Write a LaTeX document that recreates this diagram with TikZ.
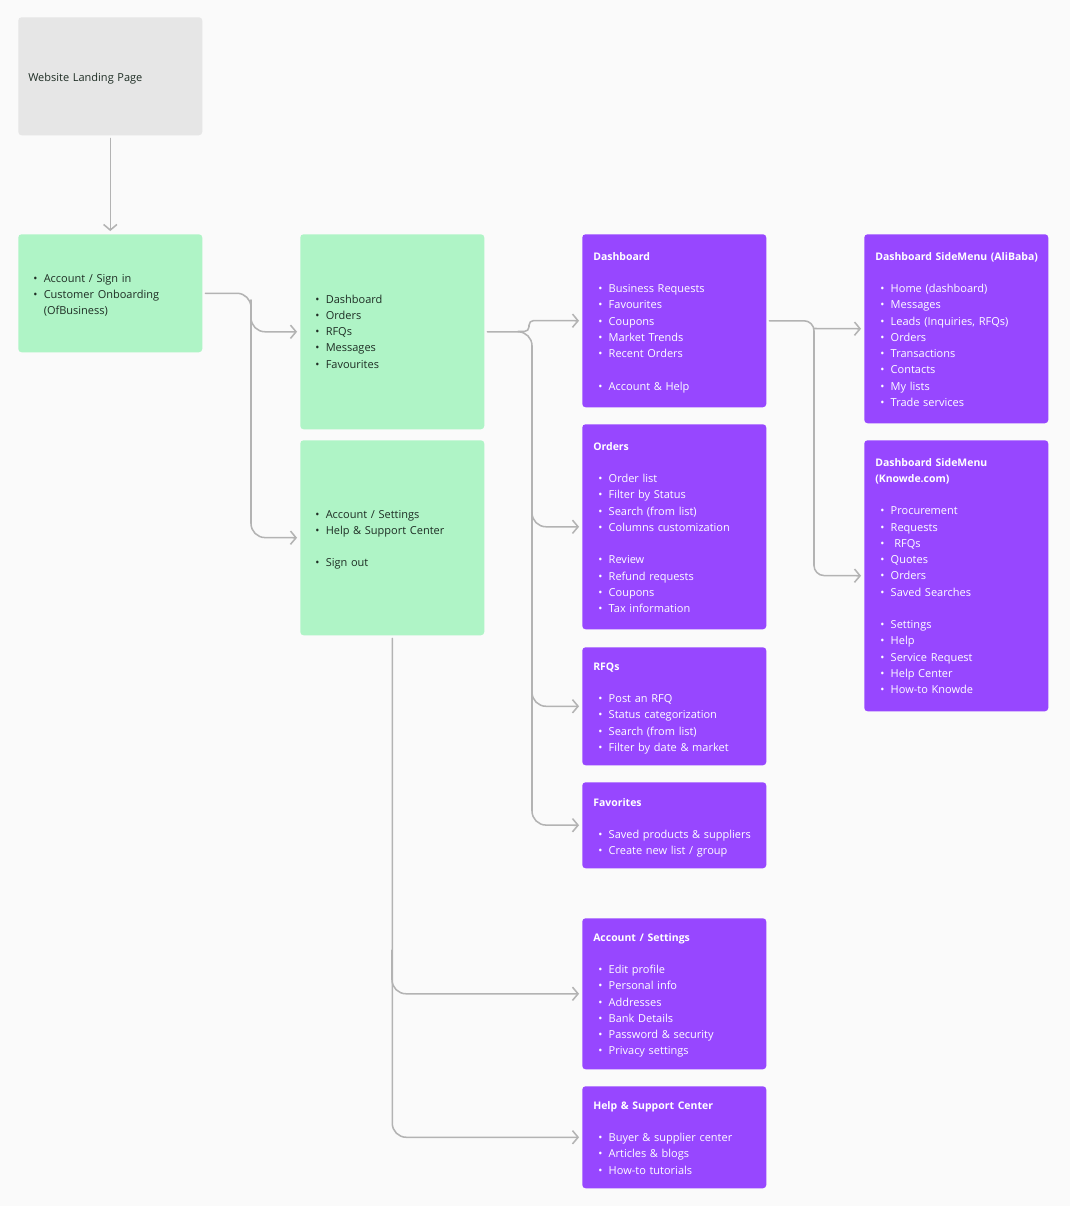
\documentclass[tikz,border=0pt]{standalone}
\usepackage{fontspec}
\setmainfont{Open Sans}
\usetikzlibrary{arrows.meta}
\definecolor{bgc}{HTML}{FAFAFA}
\definecolor{gboxc}{HTML}{AFF4C6}
\definecolor{pboxc}{HTML}{9747FF}
\definecolor{lboxc}{HTML}{E6E6E6}
\definecolor{lineg}{HTML}{B3B3B3}
\definecolor{dtext}{HTML}{1E2D24}
\newcommand\bl{\makebox[7.5pt][l]{\hspace*{-0.3pt}•}}
\newcommand\pl{\hspace*{4.1pt}\bl}
\newcommand\ttl[1]{{\fontsize{7.85pt}{12.2pt}\selectfont\bfseries #1}}
\tikzset{
  box/.style={anchor=north west, minimum width=138pt, inner sep=0pt, rounded corners=2.5pt, draw=none},
  lb/.style={box, fill=lboxc},
  gb/.style={box, fill=gboxc},
  pb/.style={box, fill=pboxc},
  txt/.style={anchor=base west, inner sep=0pt, align=left, text width=132pt,
    font=\fontsize{8.25pt}{12.2pt}\selectfont},
  gtxt/.style={txt, text=dtext},
  ptxt/.style={txt, text=white},
  conn/.style={draw=lineg, line width=1.15pt, line cap=round, line join=round,
    -{Straight Barb[length=4.2pt,width=10pt,line width=1.15pt]},
    shorten >=2.2pt},
}
\begin{document}
\begin{tikzpicture}[x=0.75pt,y=-0.75pt]
\useasboundingbox (0,0) rectangle (1070,1206);
\fill[bgc] (0,0) rectangle (1070,1206);
% boxes
\node[lb, minimum height=88.5pt] (land) at (18,17) {};
\node[gb, minimum height=88.5pt] (g1) at (18,234) {};
\node[gb, minimum height=146.25pt] (g2) at (300,234) {};
\node[gb, minimum height=146.25pt] (g3) at (300,440) {};
\node[pb, minimum height=129.75pt] (dash) at (582,234) {};
\node[pb, minimum height=153.75pt] (ord) at (582,424) {};
\node[pb, minimum height=88.5pt] (rfq) at (582,647) {};
\node[pb, minimum height=64.5pt] (fav) at (582,782) {};
\node[pb, minimum height=113.25pt] (acct) at (582,918) {};
\node[pb, minimum height=76.5pt] (help) at (582,1086) {};
\node[pb, minimum height=141.75pt] (ali) at (864,234) {};
\node[pb, minimum height=203.25pt] (kno) at (864,440) {};
% texts
\node[gtxt] (landT) at ([shift={(10,64)}]land.north west) {Website Landing Page};
\node[gtxt] (g1T) at ([shift={(15.5,48)}]g1.north west) {\bl Account / Sign in\\ \bl Customer Onboarding\\ \hspace*{7.5pt}(OfBusiness)};
\node[gtxt] (g2T) at ([shift={(15.5,69)}]g2.north west) {\bl Dashboard\\ \bl Orders\\ \bl RFQs\\ \bl Messages\\ \bl Favourites};
\node[gtxt] (g3T) at ([shift={(15.5,78)}]g3.north west) {\bl Account / Settings\\ \bl Help \& Support Center\\[12.2pt] \bl Sign out};
\node[ptxt] (dashT) at ([shift={(11,26)}]dash.north west) {\ttl{Dashboard}\\[12.2pt]
 \pl Business Requests\\ \pl Favourites\\ \pl Coupons\\ \pl Market Trends\\ \pl Recent Orders\\[12.2pt] \pl Account \& Help};
\node[ptxt] (ordT) at ([shift={(11,26)}]ord.north west) {\ttl{Orders}\\[12.2pt]
 \pl Order list\\ \pl Filter by Status\\ \pl Search (from list)\\ \pl Columns customization\\[12.2pt]
 \pl Review\\ \pl Refund requests\\ \pl Coupons\\ \pl Tax information};
\node[ptxt] (rfqT) at ([shift={(11,23)}]rfq.north west) {\ttl{RFQs}\\[12.2pt]
 \pl Post an RFQ\\ \pl Status categorization\\ \pl Search (from list)\\ \pl Filter by date \& market};
\node[ptxt] (favT) at ([shift={(11,24)}]fav.north west) {\ttl{Favorites}\\[12.2pt]
 \pl Saved products \& suppliers\\ \pl Create new list / group};
\node[ptxt] (acctT) at ([shift={(11,23)}]acct.north west) {\ttl{Account / Settings}\\[12.2pt]
 \pl Edit profile\\ \pl Personal info\\ \pl Addresses\\ \pl Bank Details\\ \pl Password \& security\\ \pl Privacy settings};
\node[ptxt] (helpT) at ([shift={(11,23)}]help.north west) {\ttl{Help \& Support Center}\\[12.2pt]
 \pl Buyer \& supplier center\\ \pl Articles \& blogs\\ \pl How-to tutorials};
\node[ptxt] (aliT) at ([shift={(11,26)}]ali.north west) {\ttl{Dashboard SideMenu (AliBaba)}\\[12.2pt]
 \pl Home (dashboard)\\ \pl Messages\\ \pl Leads (Inquiries, RFQs)\\ \pl Orders\\ \pl Transactions\\ \pl Contacts\\ \pl My lists\\ \pl Trade services};
\node[ptxt] (knoT) at ([shift={(11,26)}]kno.north west) {\ttl{Dashboard SideMenu}\\ \ttl{(Knowde.com)}\\[12.2pt]
 \pl Procurement\\ \pl Requests\\ \pl \ RFQs\\ \pl Quotes\\ \pl Orders\\ \pl Saved Searches\\[12.2pt]
 \pl Settings\\ \pl Help\\ \pl Service Request\\ \pl Help Center\\ \pl How-to Knowde};
% junction coordinates
\coordinate (j2a) at (251,300);
\coordinate (j2b) at (251,537.5);
\coordinate (j3) at (532,825);
\coordinate (j3o) at (532,480);
\coordinate (j3r) at (532,660);
\coordinate (j3s) at (518,331.5);
\coordinate (j3t) at (529,331.5);
\coordinate (j3u) at (529,320.5);
\coordinate (j4) at (814,575.5);
\coordinate (j4a) at (814,328.5);
\coordinate (j5a) at (392,950);
% connectors
\draw[conn, shorten <=2.2pt] (land.south) -- (g1.north);
\draw[conn, rounded corners=10.5pt, shorten <=2.2pt] (g1.east) -| (j2b) -- (g3.west);
\draw[conn, rounded corners=10.5pt] (j2a) |- (g2.west);
\draw[conn, rounded corners=10.5pt, shorten <=2.2pt] (g2.east) -| (j3) -- (fav.west);
\draw[conn, rounded corners=10.5pt] (j3o) |- (ord.west);
\draw[conn, rounded corners=10.5pt] (j3r) |- (rfq.west);
\draw[conn, rounded corners=3.5pt] (j3s) -- (j3t) -- (j3u) -- (dash.west);
\draw[conn, rounded corners=7.5pt, shorten <=2.2pt] (dash.east) -| (j4) -- (kno.west);
\draw[conn] (j4a) -- (ali.west);
\draw[conn, rounded corners=10.5pt, shorten <=2.2pt] (g3.south) |- (help.west);
\draw[conn, rounded corners=10.5pt] (j5a) |- (acct.west);
\end{tikzpicture}
\end{document}
